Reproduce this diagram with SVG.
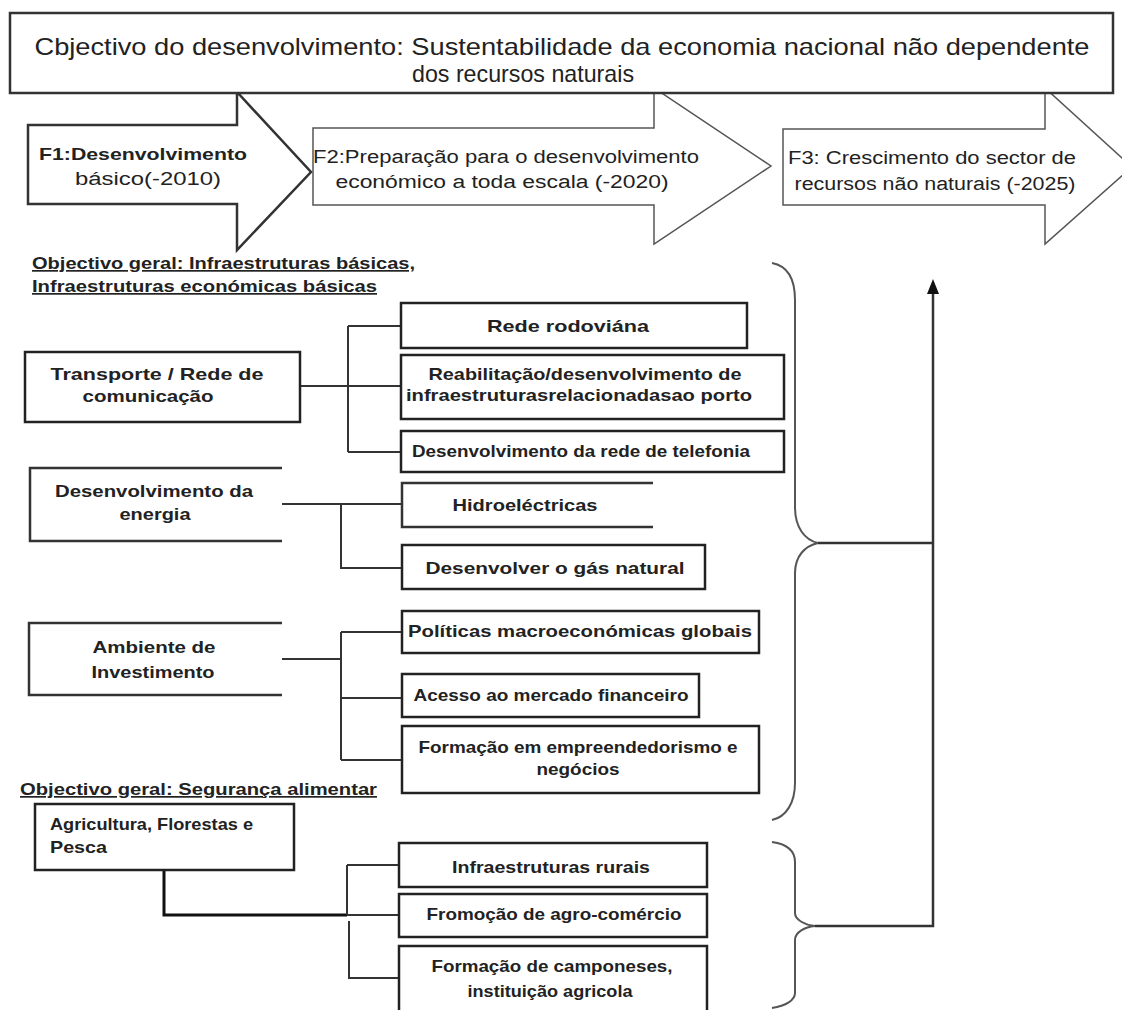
<svg xmlns="http://www.w3.org/2000/svg" width="1122" height="1010" viewBox="0 0 1122 1010">
<style>
  .box{fill:#fff;stroke:#222;stroke-width:2.5}
  .open{fill:none;stroke:#333;stroke-width:2.5}
  .phase{fill:#fff;stroke:#555;stroke-width:1.5;stroke-linejoin:miter}
  .ln{fill:none;stroke:#333;stroke-width:2}
  .br{fill:none;stroke:#555;stroke-width:2}
  .t{font-family:"Liberation Sans",Arial,sans-serif;font-weight:bold;font-size:17px;fill:#222;text-anchor:middle}
  .r{font-family:"Liberation Sans",Arial,sans-serif;font-size:18px;fill:#222;text-anchor:middle}
  .hd{font-family:"Liberation Sans",Arial,sans-serif;font-weight:bold;font-size:17px;fill:#222;text-decoration:underline}
  .lt{text-anchor:start}
</style>
<rect width="1122" height="1010" fill="#fff"/>

<!-- phase arrows -->
<g id="phase-f1">
  <polygon class="phase" points="28,125 237,125 237,92 311,172 237,250 237,204 28,204" style="stroke:#333;stroke-width:2.5"/>
  <text class="t" x="143" y="160" textLength="208" lengthAdjust="spacingAndGlyphs">F1:Desenvolvimento</text>
  <text class="r" x="148" y="185" textLength="146" lengthAdjust="spacingAndGlyphs">básico(-2010)</text>
</g>
<g id="phase-f2">
  <polygon class="phase" points="313,128 654,128 654,88 771,166 654,244 654,205 313,205"/>
  <text class="r" x="506" y="163" textLength="386" lengthAdjust="spacingAndGlyphs">F2:Preparação para o desenvolvimento</text>
  <text class="r" x="502" y="188" textLength="333" lengthAdjust="spacingAndGlyphs">económico a toda escala (-2020)</text>
</g>
<g id="phase-f3">
  <polygon class="phase" points="783,129 1045,129 1045,88 1132,167 1045,244 1045,205 783,205"/>
  <text class="r" x="932" y="164" textLength="288" lengthAdjust="spacingAndGlyphs">F3: Crescimento do sector de</text>
  <text class="r" x="935" y="190" textLength="281" lengthAdjust="spacingAndGlyphs">recursos não naturais (-2025)</text>
</g>

<!-- overall goal -->
<g id="goal">
  <rect x="10" y="13" width="1103" height="80" fill="#fff" stroke="#333" stroke-width="2.5"/>
  <text class="r" x="562" y="55" style="font-size:24px" textLength="1055" lengthAdjust="spacingAndGlyphs">Cbjectivo do desenvolvimento:  Sustentabilidade da economia nacional não dependente</text>
  <text class="r" x="523" y="82" style="font-size:24px" textLength="222" lengthAdjust="spacingAndGlyphs">dos recursos naturais</text>
</g>

<!-- section headings -->
<g id="heading-infra">
  <text class="hd" x="32" y="269" textLength="383" lengthAdjust="spacingAndGlyphs">Objectivo geral: Infraestruturas básicas,</text>
  <text class="hd" x="32" y="292" textLength="345" lengthAdjust="spacingAndGlyphs">Infraestruturas económicas básicas</text>
</g>
<g id="heading-food">
  <text class="hd" x="20" y="795" textLength="357" lengthAdjust="spacingAndGlyphs">Objectivo geral: Segurança alimentar</text>
</g>

<!-- connectors -->
<g id="connectors">
  <path class="ln" d="M300,386 H348 M348,326 V452 M348,326 H401 M348,386 H401 M348,452 H401"/>
  <path class="ln" d="M282,504 H402 M341,504 V568 H402"/>
  <path class="ln" d="M282,659 H341 M341,632 V760 M341,632 H402 M341,698 H402 M341,760 H402"/>
  <path class="ln" d="M164,870 V915 H347" style="stroke-width:3;stroke:#111"/>
  <path class="ln" d="M347,865 V915 M347,865 H399 M347,915 H399 M349,921 V978 H399"/>
  <path class="br" d="M772,263 C788,266 795,280 795,300 V507 C795,528 805,540 818,543 C805,546 795,556 795,573 V783 C795,803 786,817 772,820"/>
  <path class="br" d="M772,842 C786,844 795,850 795,862 V913 C795,920 805,925 815,926 C805,927 795,932 795,940 V993 C795,1000 786,1006 772,1008"/>
  <path class="ln" d="M818,543 H933 M815,926 H933 V292" style="stroke-width:2.5"/>
  <polygon points="933,279 927,294 939,294" fill="#111"/>
</g>

<!-- transport -->
<g id="transporte">
  <rect class="box" x="25" y="352" width="275" height="70"/>
  <text class="t" x="157" y="380" textLength="213" lengthAdjust="spacingAndGlyphs">Transporte / Rede de</text>
  <text class="t" x="148" y="402" textLength="131" lengthAdjust="spacingAndGlyphs">comunicação</text>
</g>
<g id="rede-rodoviaria">
  <rect class="box" x="401" y="303" width="346" height="45"/>
  <text class="t" x="568" y="332" textLength="162" lengthAdjust="spacingAndGlyphs">Rede rodoviána</text>
</g>
<g id="porto">
  <rect class="box" x="401" y="355" width="383" height="64"/>
  <text class="t" x="585" y="380" textLength="313" lengthAdjust="spacingAndGlyphs">Reabilitação/desenvolvimento de</text>
  <text class="t" x="579" y="401" textLength="346" lengthAdjust="spacingAndGlyphs">infraestruturasrelacionadasao porto</text>
</g>
<g id="telefonia">
  <rect class="box" x="401" y="431" width="383" height="41"/>
  <text class="t" x="581" y="457" textLength="338" lengthAdjust="spacingAndGlyphs">Desenvolvimento da rede de telefonia</text>
</g>

<!-- energy -->
<g id="energia">
  <path class="open" d="M282,468 H30 V541 H282"/>
  <text class="t" x="154" y="497" textLength="198" lengthAdjust="spacingAndGlyphs">Desenvolvimento da</text>
  <text class="t" x="155" y="520" textLength="71" lengthAdjust="spacingAndGlyphs">energia</text>
</g>
<g id="hidroelectricas">
  <path class="open" d="M653,483 H402 V527 H653"/>
  <text class="t" x="525" y="511" textLength="145" lengthAdjust="spacingAndGlyphs">Hidroeléctricas</text>
</g>
<g id="gas-natural">
  <rect class="box" x="402" y="545" width="303" height="44"/>
  <text class="t" x="555" y="574" textLength="259" lengthAdjust="spacingAndGlyphs">Desenvolver o gás natural</text>
</g>

<!-- investment -->
<g id="ambiente">
  <path class="open" d="M282,623 H29 V695 H282"/>
  <text class="t" x="154" y="653" textLength="123" lengthAdjust="spacingAndGlyphs">Ambiente de</text>
  <text class="t" x="153" y="678" textLength="123" lengthAdjust="spacingAndGlyphs">Investimento</text>
</g>
<g id="politicas">
  <rect class="box" x="402" y="611" width="357" height="42"/>
  <text class="t" x="580" y="637" textLength="344" lengthAdjust="spacingAndGlyphs">Políticas macroeconómicas globais</text>
</g>
<g id="acesso">
  <rect class="box" x="402" y="674" width="297" height="43"/>
  <text class="t" x="551" y="701" textLength="275" lengthAdjust="spacingAndGlyphs">Acesso ao mercado financeiro</text>
</g>
<g id="empreendedorismo">
  <rect class="box" x="402" y="726" width="357" height="67"/>
  <text class="t" x="578" y="753" textLength="319" lengthAdjust="spacingAndGlyphs">Formação em empreendedorismo e</text>
  <text class="t" x="578" y="775" textLength="83" lengthAdjust="spacingAndGlyphs">negócios</text>
</g>

<!-- agriculture -->
<g id="agricultura">
  <rect class="box" x="35" y="804" width="259" height="66"/>
  <text class="t lt" x="50" y="830" textLength="203" lengthAdjust="spacingAndGlyphs">Agricultura, Florestas e</text>
  <text class="t lt" x="50" y="853" textLength="57" lengthAdjust="spacingAndGlyphs">Pesca</text>
</g>
<g id="infra-rurais">
  <rect class="box" x="399" y="843" width="308" height="44"/>
  <text class="t" x="551" y="873" textLength="198" lengthAdjust="spacingAndGlyphs">Infraestruturas rurais</text>
</g>
<g id="agro-comercio">
  <rect class="box" x="399" y="894" width="308" height="43"/>
  <text class="t" x="554" y="920" textLength="255" lengthAdjust="spacingAndGlyphs">Fromoção de agro-comércio</text>
</g>
<g id="camponeses">
  <path class="box" d="M399,1014 V946 H707 V1014"/>
  <text class="t" x="552" y="972" textLength="241" lengthAdjust="spacingAndGlyphs">Formação de camponeses,</text>
  <text class="t" x="550" y="997" textLength="165" lengthAdjust="spacingAndGlyphs">instituição agricola</text>
</g>
</svg>
